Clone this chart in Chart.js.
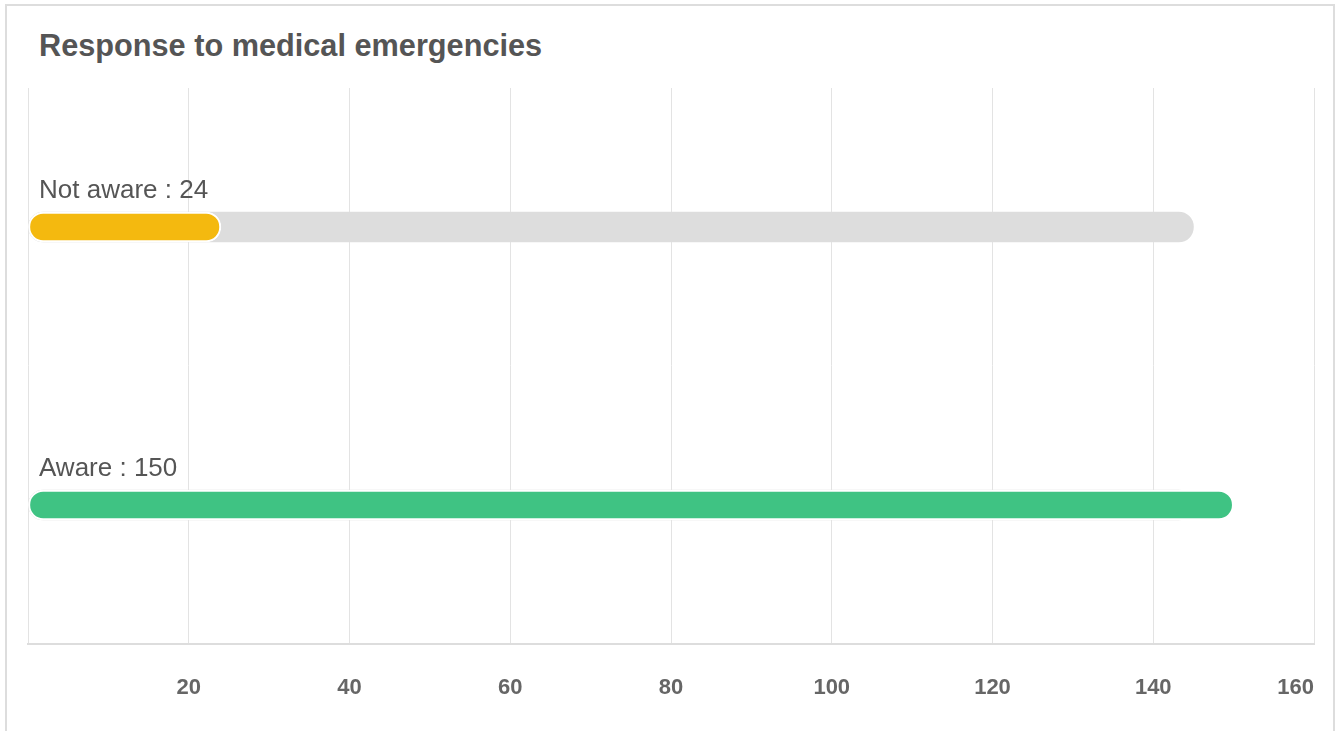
<!DOCTYPE html>
<html>
<head>
<meta charset="utf-8">
<script src="https://cdn.jsdelivr.net/npm/chart.js@4.4.1/dist/chart.umd.min.js"></script>
<style>
    html, body { margin: 0; padding: 0; background: #fff; }
    body { width: 1342px; height: 731px; position: relative; overflow: hidden; font-family: "Liberation Sans", Arial, sans-serif; }
    .card { position: absolute; left: 5px; top: 4px; width: 1330px; height: 760px; border: 2px solid #dddddd; box-sizing: border-box; }
    .title { position: absolute; left: 39px; top: 28px; font-size: 30.7px; font-weight: bold; color: #555; line-height: 36px; }
    #chart { position: absolute; left: 0; top: 0; }
</style>
</head>
<body>
<div class="card"></div>
<div class="title">Response to medical emergencies</div>
<canvas id="chart" width="1342" height="731"></canvas>

<script>
// ==================== DATOS ====================
const categories = ['Not aware', 'Aware'];
const values = [24, 150];
const trackValues = [145, 145];
const barColors = ['#f4b90f', '#3fc383'];
const tickValues = [0, 20, 40, 60, 80, 100, 120, 140, 160];

// ==================== PLUGIN ETIQUETAS ====================
const barLabels = {
    id: 'barLabels',
    afterDatasetsDraw(chart) {
        const ctx = chart.ctx;
        const yScale = chart.scales.y;
        ctx.save();
        ctx.font = '26px "Liberation Sans", Arial, sans-serif';
        ctx.fillStyle = '#555';
        ctx.textAlign = 'left';
        ctx.textBaseline = 'alphabetic';
        categories.forEach((cat, i) => {
            const y = yScale.getPixelForValue(i);
            ctx.fillText(cat + ' : ' + values[i], 39, y - 29);
        });
        ctx.restore();
    }
};

// ==================== CHART ====================
const ctx = document.getElementById('chart').getContext('2d');

const chart = new Chart(ctx, {
    type: 'bar',
    data: {
        labels: categories,
        datasets: [{
            label: 'Valor',
            data: values,
            backgroundColor: barColors,
            borderColor: '#ffffff',
            borderWidth: 2,
            borderRadius: 15,
            borderSkipped: false,
            barThickness: 30,
            grouped: false,
            order: 1
        }, {
            label: 'Fondo',
            data: trackValues,
            backgroundColor: '#dddddd',
            borderWidth: 0,
            borderRadius: 15,
            borderSkipped: false,
            barThickness: 30,
            grouped: false,
            order: 2
        }]
    },
    options: {
        indexAxis: 'y',
        animation: false,
        responsive: false,
        devicePixelRatio: 1,
        layout: {
            padding: { left: 28, right: 28, top: 88, bottom: -1.4 }
        },
        plugins: {
            legend: { display: false },
            tooltip: { enabled: false }
        },
        scales: {
            x: {
                min: tickValues[0],
                max: tickValues[tickValues.length - 1],
                afterBuildTicks: (scale) => {
                    scale.ticks = tickValues.map(v => ({ value: v }));
                },
                afterFit: (scale) => {
                    scale.paddingLeft = 0;
                    scale.paddingRight = 0;
                },
                grid: {
                    color: '#e3e3e3',
                    lineWidth: 1,
                    drawTicks: false
                },
                border: { display: true, color: '#dddddd', width: 2 },
                ticks: {
                    align: 'inner',
                    padding: 31,
                    color: '#666',
                    font: { family: '"Liberation Sans", Arial, sans-serif', size: 22, weight: 'bold' },
                    callback: (v) => v === 0 ? '' : v
                }
            },
            y: {
                display: false
            }
        }
    },
    plugins: [barLabels]
});
</script>
</body>
</html>
